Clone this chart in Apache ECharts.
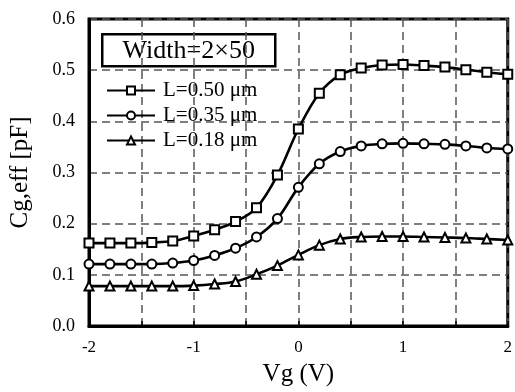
<!DOCTYPE html>
<html>
<head>
<meta charset="utf-8">
<script src="https://cdn.jsdelivr.net/npm/echarts@6/dist/echarts.min.js"></script>
<style>html,body{margin:0;padding:0;background:#fff}#c{width:515px;height:392px}</style>
</head>
<body>
<div id="c"></div>
<script>
const vg = [-2, -1.8, -1.6, -1.4, -1.2, -1.0, -0.8, -0.6, -0.4, -0.2, 0, 0.2, 0.4, 0.6, 0.8, 1.0, 1.2, 1.4, 1.6, 1.8, 2.0];
const cgL050 = [0.162, 0.162, 0.162, 0.163, 0.166, 0.176, 0.188, 0.204, 0.231, 0.295, 0.385, 0.455, 0.491, 0.504, 0.510, 0.511, 0.509, 0.506, 0.501, 0.496, 0.492];
const cgL035 = [0.121, 0.121, 0.121, 0.121, 0.123, 0.128, 0.138, 0.152, 0.174, 0.210, 0.271, 0.317, 0.341, 0.352, 0.356, 0.357, 0.356, 0.355, 0.352, 0.348, 0.346];
const cgL018 = [0.078, 0.078, 0.078, 0.078, 0.078, 0.079, 0.082, 0.087, 0.101, 0.118, 0.139, 0.158, 0.170, 0.174, 0.175, 0.175, 0.174, 0.173, 0.172, 0.170, 0.168];
const seriesNames = ['L=0.50 μm', 'L=0.35 μm', 'L=0.18 μm'];
const boxLabel = 'Width=2×50';
const xName = 'Vg (V)';
const yName = 'Cg,eff [pF]';

const font = 'Liberation Serif';
const chart = echarts.init(document.getElementById('c'), null, {renderer: 'canvas'});
function mk(name, ys, sym) {
  return {
    name: name, type: 'line', smooth: 0.35,
    data: vg.map((x, i) => [x, ys[i]]),
    symbol: sym, symbolSize: 9,
    lineStyle: {color: '#000', width: 2.6},
    itemStyle: {color: '#000', borderColor: '#000', borderWidth: 1.5},
    emphasis: {disabled: true}, z: 3
  };
}
chart.setOption({
  animation: false,
  backgroundColor: '#fff',
  grid: {left: 89, right: 4, top: 19, bottom: 59, show: true, borderColor: '#000', borderWidth: 3, backgroundColor: 'transparent'},
  xAxis: {
    type: 'value', min: -2, max: 2, interval: 0.5,
    name: xName, nameLocation: 'middle', nameGap: 36,
    nameTextStyle: {fontFamily: font, fontSize: 25, color: '#000'},
    axisLine: {onZero: false, lineStyle: {color: '#000', width: 3}},
    axisTick: {inside: true, length: 5, lineStyle: {color: '#000', width: 1.5}},
    axisLabel: {fontFamily: font, fontSize: 17, color: '#000', margin: 13,
      formatter: v => (Math.abs(v - Math.round(v)) < 1e-9 ? String(Math.round(v)) : '')},
    splitLine: {show: true, lineStyle: {color: '#555', width: 1.5, type: [8, 5]}}
  },
  yAxis: {
    type: 'value', min: 0, max: 0.6, interval: 0.1,
    name: yName, nameLocation: 'middle', nameGap: 56,
    nameTextStyle: {fontFamily: font, fontSize: 25, color: '#000'},
    axisLine: {onZero: false, lineStyle: {color: '#000', width: 3}},
    axisTick: {show: false},
    axisLabel: {fontFamily: font, fontSize: 18, color: '#000', margin: 14, formatter: v => v.toFixed(1)},
    splitLine: {show: true, lineStyle: {color: '#555', width: 1.5, type: [8, 5]}}
  },
  legend: {
    orient: 'vertical', left: 101, top: 75, itemGap: 4, itemWidth: 48, itemHeight: 10,
    textStyle: {fontFamily: font, fontSize: 21, color: '#000', padding: [0, 0, 0, 3]},
    data: seriesNames
  },
  graphic: [{
    type: 'group', left: 101, top: 33, z: 10,
    children: [
      {type: 'rect', shape: {x: 0, y: 0, width: 173, height: 32}, style: {fill: '#fff', stroke: '#000', lineWidth: 2.5}},
      {type: 'text', x: 86.5, y: 17, style: {text: boxLabel, font: '26px "Liberation Serif"', fill: '#000', textAlign: 'center', textVerticalAlign: 'middle'}}
    ]
  }],
  series: [
    mk(seriesNames[0], cgL050, 'emptyRect'),
    mk(seriesNames[1], cgL035, 'emptyCircle'),
    mk(seriesNames[2], cgL018, 'emptyTriangle')
  ]
});
</script>
</body>
</html>
